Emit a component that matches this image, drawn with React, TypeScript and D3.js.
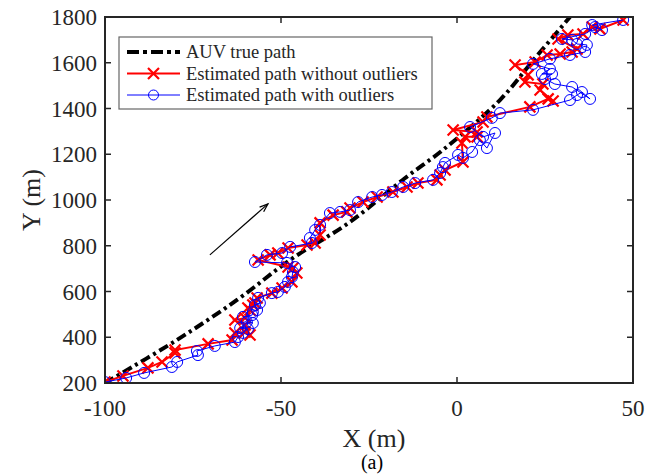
import React from "react";
import * as d3 from "d3";

// true AUV trajectory
const trueX = [-100, -80, -62.5, -47.4, -30.4, -15, -4, 12.2, 22, 32.1];
const trueY = [200, 384, 563, 738, 904, 1093, 1219, 1437, 1617, 1800];

// estimate without outliers
const redX = [
  -100, -94.9, -87.8, -83.8, -80.1, -80.1, -70.7, -63.9, -63.1, -60.2, -58.8, -60.2,
  -63.1, -60.2, -58.8, -59.4, -58, -57.4, -56.8, -52.6, -49.7, -46.9, -45.5, -46.6,
  -48, -56.5, -53.1, -50.9, -48, -42.6, -40.3, -38.9, -38.9, -35.2, -31.3, -30.4,
  -26.7, -22.7, -18.2, -14.2, -11.1, -5.7, -4.8, -3.4, 1.7, 1.4, 2.3, 5.7, 5.7, -1.1,
  7.4, 8.5, 20.7, 25.9, 27.3, 23.6, 24.4, 19.3, 20.2, 16.5, 22.2, 25.6, 29.3, 32.7,
  34.1, 28.7, 31.5, 35.8, 38.4, 40.6, 47.2,
];
const redY = [
  204, 231, 266, 292, 331, 344, 371, 388, 419, 423, 410, 454,
  475, 484, 519, 528, 541, 550, 572, 593, 615, 642, 681, 703,
  707, 738, 760, 768, 790, 803, 812, 847, 900, 934, 948, 965,
  991, 1013, 1035, 1057, 1074, 1088, 1109, 1131, 1166, 1249, 1276, 1276, 1297, 1306,
  1341, 1363, 1407, 1442, 1433, 1481, 1507, 1516, 1547, 1590, 1603, 1634, 1638, 1647,
  1660, 1704, 1721, 1726, 1756, 1748, 1787,
];

// estimate with outliers
const blueX = [
  -100, -94, -88.9, -81, -79.5, -73.6, -73.9, -68.8, -63.1, -62.2, -60.8, -59.4,
  -61.6, -59.7, -58, -60.8, -58.2, -58, -56.8, -57.4, -56, -56.5, -52.6, -50.9,
  -48.9, -48, -46.9, -46.6, -46, -48.3, -57.4, -54, -49.7, -47.4, -41.2, -41.8,
  -40.3, -38.9, -36.1, -33.2, -30.4, -28.1, -24.1, -21.3, -18.5, -15.3, -11.9, -6.8,
  -4.8, -4, -3.4, 0.3, 1.7, 4.3, 6.5, 8.5, 10.8, 7.4, 3.7, 9.9, 12.2, 21.6,
  32.1, 34.1, 35.5, 37.8, 32.7, 27.8, 25, 27, 24.1, 26.4, 21.6, 26.4, 32.1, 36.4,
  36.9, 34.1, 32.7, 29.8, 36.4, 39.2, 41.2, 38.4, 47.2,
];
const blueY = [
  204, 222, 244, 270, 292, 322, 340, 362, 379, 401, 419, 436,
  440, 467, 462, 489, 497, 510, 519, 541, 550, 572, 593, 598,
  620, 642, 663, 685, 707, 725, 729, 760, 768, 795, 812, 834,
  869, 891, 943, 948, 956, 991, 1013, 1022, 1035, 1057, 1074, 1088,
  1118, 1144, 1162, 1197, 1184, 1210, 1262, 1227, 1293, 1276, 1319, 1359, 1380, 1394,
  1437, 1459, 1472, 1442, 1494, 1507, 1529, 1551, 1551, 1573, 1595, 1617, 1634, 1647,
  1678, 1682, 1700, 1704, 1726, 1756, 1743, 1765, 1787,
];

const xTicks = [-100, -50, 0, 50];
const yTicks = [200, 400, 600, 800, 1000, 1200, 1400, 1600, 1800];
const legendLabels = ["AUV true path", "Estimated path without outliers", "Estimated path with outliers"];

// arrow showing direction of travel (data units)
const arrowFrom = [-70.2, 760];
const arrowTo = [-53.7, 983];

const W = 662;
const H = 475;
const font = "'Liberation Serif', 'Times New Roman', serif";

export default function App() {
  const x = d3.scaleLinear().domain([-100, 50]).range([105, 633]);
  const y = d3.scaleLinear().domain([200, 1800]).range([383, 17]);

  const trueLine = d3
    .line<number>()
    .x((i) => x(trueX[i]))
    .y((i) => y(trueY[i]))
    .curve(d3.curveCatmullRom);
  const redLine = d3
    .line<number>()
    .x((i) => x(redX[i]))
    .y((i) => y(redY[i]));
  const blueLine = d3
    .line<number>()
    .x((i) => x(blueX[i]))
    .y((i) => y(blueY[i]));

  const [x0, x1] = x.range();
  const [y0, y1] = y.range();
  const tick = 6;

  // arrow head
  const ax1 = x(arrowFrom[0]), ay1 = y(arrowFrom[1]);
  const ax2 = x(arrowTo[0]), ay2 = y(arrowTo[1]);
  const ang = Math.atan2(ay2 - ay1, ax2 - ax1);
  const hl = 9;
  const head = [ang + 0.35, ang - 0.35].map((a) => [ax2 - hl * Math.cos(a), ay2 - hl * Math.sin(a)]);

  const cross = (cx: number, cy: number, k: number) => {
    const s = 5.5;
    return (
      <path
        key={k}
        d={`M${cx - s},${cy - s}L${cx + s},${cy + s}M${cx - s},${cy + s}L${cx + s},${cy - s}`}
        stroke="#ff0000"
        strokeWidth={2.2}
      />
    );
  };

  return (
    <svg width={W} height={H} style={{ position: "absolute", left: 0, top: 0, background: "#fff" }}>
      <rect width={W} height={H} fill="#fff" />
      <defs>
        <clipPath id="plot">
          <rect x={x0} y={y1} width={x1 - x0} height={y0 - y1} />
        </clipPath>
      </defs>

      <g clipPath="url(#plot)">
        <path
          d={trueLine(d3.range(trueX.length)) || ""}
          fill="none"
          stroke="#000"
          strokeWidth={4}
          strokeDasharray="10,4,3,4"
        />
        <path d={redLine(d3.range(redX.length)) || ""} fill="none" stroke="#ff0000" strokeWidth={2} />
        {redX.map((v, i) => cross(x(v), y(redY[i]), i))}
        <path d={blueLine(d3.range(blueX.length)) || ""} fill="none" stroke="#0000ff" strokeWidth={1} />
        {blueX.map((v, i) => (
          <circle key={i} cx={x(v)} cy={y(blueY[i])} r={5.5} fill="none" stroke="#0000ff" strokeWidth={1} />
        ))}
      </g>

      {/* arrow */}
      <line x1={ax1} y1={ay1} x2={ax2} y2={ay2} stroke="#000" strokeWidth={1.2} />
      <path
        d={`M${head[0][0]},${head[0][1]}L${ax2},${ay2}L${head[1][0]},${head[1][1]}`}
        fill="none"
        stroke="#000"
        strokeWidth={1.2}
      />

      {/* frame and ticks */}
      <rect x={x0} y={y1} width={x1 - x0} height={y0 - y1} fill="none" stroke="#262626" strokeWidth={2} />
      {xTicks.map((t) => (
        <g key={"x" + t}>
          <line x1={x(t)} x2={x(t)} y1={y0} y2={y0 - tick} stroke="#262626" strokeWidth={1.5} />
          <line x1={x(t)} x2={x(t)} y1={y1} y2={y1 + tick} stroke="#262626" strokeWidth={1.5} />
          <text x={x(t)} y={y0 + 33} textAnchor="middle" fontFamily={font} fontSize={23} fill="#262626">
            {t}
          </text>
        </g>
      ))}
      {yTicks.map((t) => (
        <g key={"y" + t}>
          <line x1={x0} x2={x0 + tick} y1={y(t)} y2={y(t)} stroke="#262626" strokeWidth={1.5} />
          <line x1={x1} x2={x1 - tick} y1={y(t)} y2={y(t)} stroke="#262626" strokeWidth={1.5} />
          <text x={x0 - 8} y={y(t) + 8} textAnchor="end" fontFamily={font} fontSize={23} fill="#262626">
            {t}
          </text>
        </g>
      ))}

      <text x={374} y={447} textAnchor="middle" fontFamily={font} fontSize={26} fill="#262626">
        X (m)
      </text>
      <text
        transform="translate(40,200) rotate(-90)"
        textAnchor="middle"
        fontFamily={font}
        fontSize={26}
        fill="#262626"
      >
        Y (m)
      </text>
      <text x={372} y={469} textAnchor="middle" fontFamily={font} fontSize={20} fill="#000">
        (a)
      </text>

      {/* legend */}
      <g>
        <rect x={119} y={37} width={313} height={72} fill="#fff" stroke="#666" strokeWidth={1.2} />
        {legendLabels.map((lab, i) => {
          const ly = 52 + i * 21.5;
          return (
            <g key={lab}>
              {i === 0 && (
                <line x1={127} x2={180} y1={ly} y2={ly} stroke="#000" strokeWidth={4} strokeDasharray="12,4,4,4" />
              )}
              {i === 1 && (
                <>
                  <line x1={127} x2={180} y1={ly} y2={ly} stroke="#ff0000" strokeWidth={2} />
                  {cross(153.5, ly, 999)}
                </>
              )}
              {i === 2 && (
                <>
                  <line x1={127} x2={180} y1={ly} y2={ly} stroke="#0000ff" strokeWidth={1} />
                  <circle cx={153.5} cy={ly} r={5} fill="none" stroke="#0000ff" strokeWidth={1} />
                </>
              )}
              <text x={186} y={ly + 6} fontFamily={font} fontSize={18.5} fill="#262626">
                {lab}
              </text>
            </g>
          );
        })}
      </g>
    </svg>
  );
}
